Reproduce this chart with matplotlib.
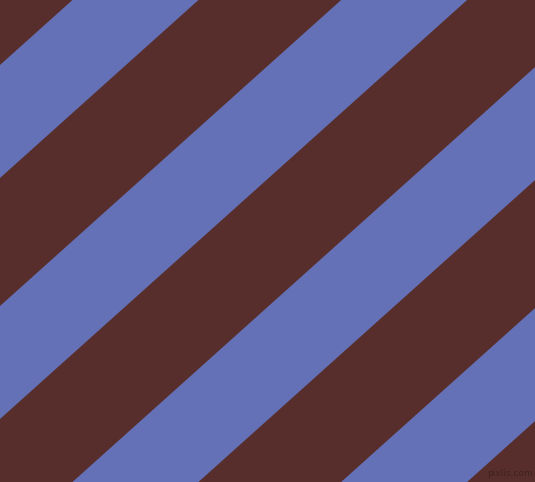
import matplotlib
matplotlib.use("Agg")
import matplotlib.pyplot as plt
import numpy as np

# picture size in pixels
width, height = 535, 482

# stripe boundaries: lines slope*x + y = offset
slope = 0.897
blue_starts = [-176, 65, 306, 547, 788]
blue_width = 113

brown = "#572e2b"
blue = "#6571b6"

fig = plt.figure(figsize=(width / 100, height / 100), dpi=100)
ax = fig.add_axes([0, 0, 1, 1])
ax.set_facecolor(brown)
ax.set_xlim(0, width)
ax.set_ylim(height, 0)
ax.axis("off")
fig.patch.set_facecolor(brown)

xs = np.array([0, width])
for c0 in blue_starts:
    ax.fill_between(xs, c0 - slope * xs, c0 + blue_width - slope * xs,
                    color=blue, linewidth=0)

ax.text(510, 473, "pixlis.com", fontsize=6.5, color="#3a1f1d", alpha=0.8,
        ha="center", va="center", family="DejaVu Sans")

fig.savefig("out.png", dpi=100, facecolor=brown)
